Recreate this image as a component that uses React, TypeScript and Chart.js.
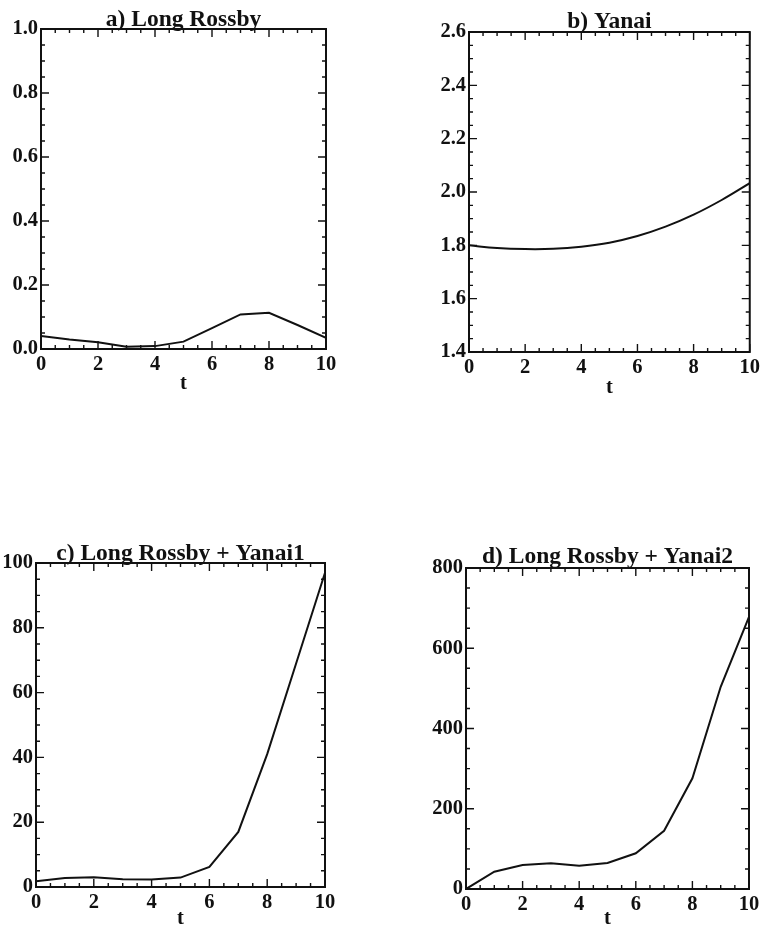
import React, { useEffect, useRef } from "react";
import { Chart, registerables } from "chart.js";

Chart.register(...registerables);

// ---------- data ----------
const tValues = [0, 1, 2, 3, 4, 5, 6, 7, 8, 9, 10];
const longRossby = [0.041, 0.03, 0.021, 0.007, 0.009, 0.023, 0.065, 0.108, 0.113, 0.075, 0.035];
const yanai = [1.8, 1.79, 1.786, 1.787, 1.795, 1.81, 1.835, 1.87, 1.915, 1.97, 2.033];
const rossbyYanai1 = [1.8, 2.8, 3.0, 2.4, 2.3, 2.9, 6.2, 17, 41, 69, 97];
const rossbyYanai2 = [0, 43, 60, 64, 58, 65, 89, 145, 276, 504, 678];

const titles = ["a) Long Rossby", "b) Yanai", "c) Long Rossby + Yanai1", "d) Long Rossby + Yanai2"];
const xAxisLabel = "t";
const xTickStep = 2;
const yRanges = [
  { min: 0, max: 1, step: 0.2, decimals: 1 },
  { min: 1.4, max: 2.6, step: 0.2, decimals: 1 },
  { min: 0, max: 100, step: 20, decimals: 0 },
  { min: 0, max: 800, step: 200, decimals: 0 },
];
const seriesList = [longRossby, yanai, rossbyYanai1, rossbyYanai2];

// ---------- layout (page pixels) ----------
const layouts = [
  { canvas: { left: 0, top: 0, w: 345, h: 400 }, area: { left: 41, right: 326, top: 29, bottom: 349 }, titleY: 20, tY: 384 },
  { canvas: { left: 420, top: 0, w: 343, h: 400 }, area: { left: 469, right: 752, top: 32, bottom: 352 }, titleY: 22, tY: 388 },
  { canvas: { left: 0, top: 520, w: 345, h: 411 }, area: { left: 36, right: 325, top: 563, bottom: 887 }, titleY: 554, tY: 919 },
  { canvas: { left: 420, top: 520, w: 343, h: 411 }, area: { left: 466, right: 749, top: 568, bottom: 889 }, titleY: 557, tY: 919 },
];

const FONT = "'Liberation Serif', 'Times New Roman', serif";
const INK = "#111";
const TITLE_SIZE = 23.5;
const TICK_SIZE = 20.5;

const frameTicksPlugin = {
  id: "frameTicks",
  afterDatasetsDraw(chart: any) {
    const { ctx, chartArea, scales } = chart;
    const { left, right, top, bottom } = chartArea;
    const x = scales.x;
    const y = scales.y;
    ctx.save();
    ctx.strokeStyle = INK;
    ctx.lineWidth = 2;
    ctx.strokeRect(left, top, right - left, bottom - top);
    ctx.lineWidth = 1.4;
    const xs = chart.options.scales.x.ticks.stepSize / 4;
    const nx = Math.round((x.max - x.min) / xs);
    for (let i = 0; i <= nx; i++) {
      const px = x.getPixelForValue(x.min + i * xs);
      const len = i % 4 === 0 ? 8 : 4;
      ctx.beginPath();
      ctx.moveTo(px, bottom);
      ctx.lineTo(px, bottom - len);
      ctx.moveTo(px, top);
      ctx.lineTo(px, top + len);
      ctx.stroke();
    }
    const ys = chart.options.scales.y.ticks.stepSize / 4;
    const ny = Math.round((y.max - y.min) / ys);
    for (let i = 0; i <= ny; i++) {
      const py = y.getPixelForValue(y.min + i * ys);
      const len = i % 4 === 0 ? 8 : 4;
      ctx.beginPath();
      ctx.moveTo(left, py);
      ctx.lineTo(left + len, py);
      ctx.moveTo(right, py);
      ctx.lineTo(right - len, py);
      ctx.stroke();
    }
    ctx.restore();
  },
};

function Panel({ idx }: { idx: number }) {
  const ref = useRef<HTMLCanvasElement>(null);
  const L = layouts[idx];
  useEffect(() => {
    if (!ref.current) return;
    const yr = yRanges[idx];
    const c = L.canvas;
    const yWidth = L.area.left - c.left;
    const rightPad = c.left + c.w - L.area.right;
    const titlePadTop = L.titleY - c.top - TITLE_SIZE / 2;
    const titlePadBottom = L.area.top - c.top - titlePadTop - TITLE_SIZE;
    const xHeight = c.top + c.h - L.area.bottom;
    const tPadBottom = c.top + c.h - L.tY - TICK_SIZE / 2;
    const chart = new Chart(ref.current, {
      type: "line",
      data: {
        datasets: [
          {
            data: tValues.map((t, i) => ({ x: t, y: seriesList[idx][i] })),
            borderColor: INK,
            borderWidth: 2,
            pointRadius: 0,
            tension: idx === 1 ? 0.4 : 0,
            fill: false,
          },
        ],
      },
      options: {
        animation: false,
        responsive: false,
        events: [],
        layout: { padding: { left: 0, right: rightPad, top: 0, bottom: 0 } },
        plugins: {
          legend: { display: false },
          tooltip: { enabled: false },
          title: {
            display: true,
            text: titles[idx],
            fullSize: false,
            color: INK,
            font: { family: FONT, size: TITLE_SIZE, weight: "bold", lineHeight: 1 },
            padding: { top: titlePadTop, bottom: titlePadBottom },
          },
        },
        scales: {
          x: {
            type: "linear",
            min: 0,
            max: 10,
            grid: { display: false, drawTicks: false },
            border: { display: false },
            ticks: {
              stepSize: xTickStep,
              padding: 3,
              color: INK,
              maxRotation: 0,
              font: { family: FONT, size: TICK_SIZE, weight: "bold" },
              callback: (v: any) => String(v),
            },
            title: {
              display: true,
              text: xAxisLabel,
              color: INK,
              font: { family: FONT, size: TICK_SIZE, weight: "bold", lineHeight: 1 },
              padding: { top: 0, bottom: tPadBottom },
            },
            afterFit: (s: any) => {
              s.height = xHeight;
            },
          },
          y: {
            type: "linear",
            min: yr.min,
            max: yr.max,
            grid: { display: false, drawTicks: false },
            border: { display: false },
            ticks: {
              stepSize: yr.step,
              padding: 3,
              color: INK,
              font: { family: FONT, size: TICK_SIZE, weight: "bold" },
              callback: (v: any) => Number(v).toFixed(yr.decimals),
            },
            afterFit: (s: any) => {
              s.width = yWidth;
            },
          },
        },
      } as any,
      plugins: [frameTicksPlugin],
    });
    return () => chart.destroy();
  }, []);
  return (
    <canvas
      ref={ref}
      width={L.canvas.w}
      height={L.canvas.h}
      style={{ position: "absolute", left: L.canvas.left, top: L.canvas.top, width: L.canvas.w, height: L.canvas.h }}
    />
  );
}

export default function App() {
  return (
    <div style={{ position: "absolute", left: 0, top: 0, width: 763, height: 931, background: "#fff" }}>
      {[0, 1, 2, 3].map((i) => (
        <Panel key={i} idx={i} />
      ))}
    </div>
  );
}
